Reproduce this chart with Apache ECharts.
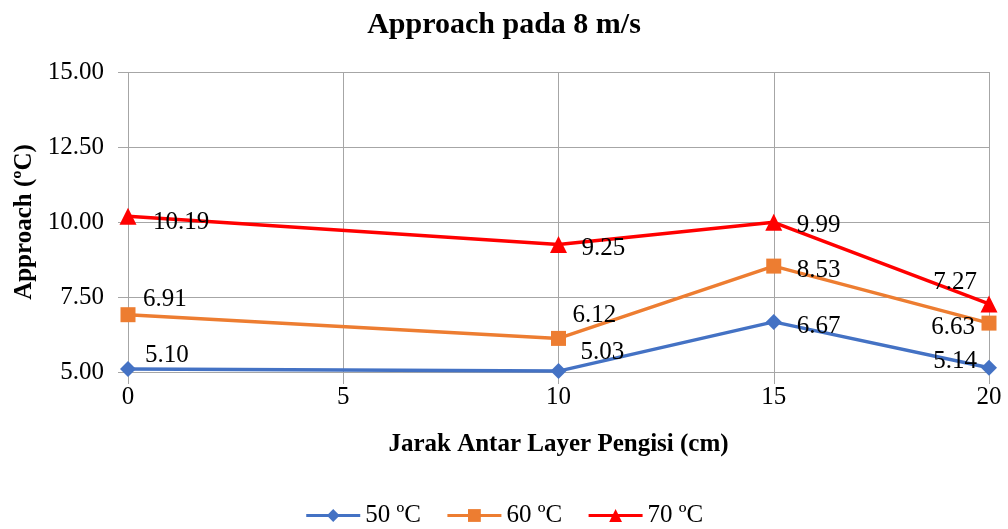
<!DOCTYPE html>
<html>
<head>
<meta charset="utf-8">
<style>
  html, body { margin: 0; padding: 0; background: #ffffff; }
  #chart { width: 1008px; height: 529px; }
</style>
<script src="https://cdn.jsdelivr.net/npm/echarts@6/dist/echarts.min.js"></script>
</head>
<body>
<div id="chart"></div>
<script>
// Spacing between filler layers (cm)
const spacing = [0, 10, 15, 20];
// Approach (°C) at 8 m/s, per inlet water temperature
const approach50 = [5.10, 5.03, 6.67, 5.14];
const approach60 = [6.91, 6.12, 8.53, 6.63];
const approach70 = [10.19, 9.25, 9.99, 7.27];
const seriesNames = ['50 ºC', '60 ºC', '70 ºC'];
const yTicks = [5, 7.5, 10, 12.5, 15];
const xTicks = [0, 5, 10, 15, 20];

// Where each value label sits relative to its point: [align, dx, dy]
const labelPlace50 = [['left', 17, -14], ['left', 22, -19], ['left', 23, 5], ['right', -12, -6]];
const labelPlace60 = [['left', 15, -15], ['left', 14, -23], ['left', 23, 4], ['right', -14, 4]];
const labelPlace70 = [['left', 25, 6], ['left', 23, 4], ['left', 23, 3], ['right', -12, -21]];

const serif = '"Liberation Serif", "Times New Roman", serif';
const gridColor = '#a6a6a6';

function buildData(values, places) {
  return values.map((v, i) => ({
    value: [spacing[i], v],
    label: {
      align: places[i][0],
      offset: [places[i][1], places[i][2]]
    }
  }));
}

function makeSeries(name, values, places, color, symbol, size) {
  return {
    name: name,
    type: 'line',
    data: buildData(values, places),
    symbol: symbol,
    symbolSize: size,
    lineStyle: { color: color, width: 3.5 },
    itemStyle: { color: color },
    label: {
      show: true,
      position: 'inside',
      verticalAlign: 'middle',
      color: '#000',
      fontFamily: serif,
      fontSize: 25,
      formatter: p => p.value[1].toFixed(2)
    },
    emphasis: { disabled: true },
    animation: false,
    z: 3
  };
}

const chart = echarts.init(document.getElementById('chart'));
chart.setOption({
  backgroundColor: '#ffffff',
  title: {
    text: 'Approach pada 8 m/s',
    left: 'center',
    top: 5,
    textStyle: { fontFamily: serif, fontWeight: 'bold', fontSize: 30, color: '#000' }
  },
  legend: {
    bottom: -4,
    left: 'center',
    itemWidth: 54,
    itemHeight: 16,
    itemGap: 25,
    lineStyle: { width: 3 },
    textStyle: { fontFamily: serif, fontSize: 25, color: '#000' },
    data: seriesNames
  },
  grid: { left: 128, right: 19, top: 72, bottom: 157 },
  xAxis: {
    type: 'value',
    min: xTicks[0],
    max: xTicks[xTicks.length - 1],
    interval: 5,
    name: 'Jarak Antar Layer Pengisi (cm)',
    nameLocation: 'middle',
    nameGap: 60,
    nameTextStyle: { fontFamily: serif, fontWeight: 'bold', fontSize: 25, color: '#000' },
    axisLine: { show: true, lineStyle: { color: gridColor, width: 1 } },
    axisTick: { show: true, length: 12, lineStyle: { color: gridColor } },
    axisLabel: { margin: 13, fontFamily: serif, fontSize: 25, color: '#000' },
    splitLine: { show: true, lineStyle: { color: gridColor, width: 1 } }
  },
  yAxis: {
    type: 'value',
    min: yTicks[0],
    max: yTicks[yTicks.length - 1],
    interval: 2.5,
    name: 'Approach (ºC)',
    nameLocation: 'middle',
    nameGap: 88,
    nameRotate: 90,
    nameTextStyle: { fontFamily: serif, fontWeight: 'bold', fontSize: 25, color: '#000' },
    axisLine: { show: false },
    axisTick: { show: true, length: 10, lineStyle: { color: gridColor } },
    axisLabel: { margin: 24, fontFamily: serif, fontSize: 25, color: '#000', formatter: v => v.toFixed(2) },
    splitLine: { show: true, lineStyle: { color: gridColor, width: 1 } }
  },
  series: [
    makeSeries(seriesNames[0], approach50, labelPlace50, '#4472C4', 'diamond', 16),
    makeSeries(seriesNames[1], approach60, labelPlace60, '#ED7D31', 'rect', 15),
    makeSeries(seriesNames[2], approach70, labelPlace70, '#FF0000', 'triangle', 17)
  ]
});
</script>
</body>
</html>
